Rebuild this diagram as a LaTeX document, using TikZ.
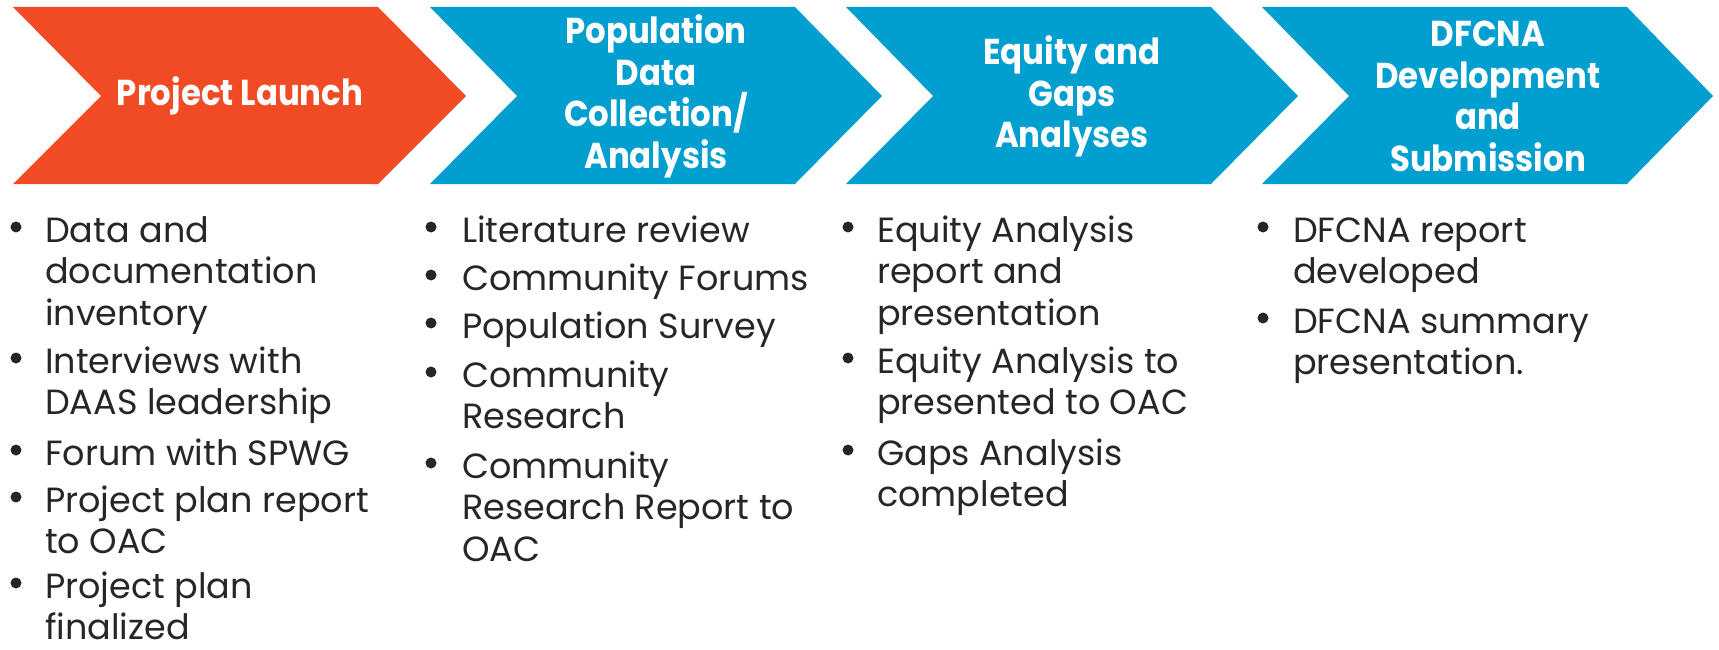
\documentclass[tikz,border=0pt]{standalone}
\usepackage{fontspec}
\setmainfont{Poppins}
\newfontfamily\headff{Poppins}[FakeStretch=0.9]
\definecolor{orng}{HTML}{F04B24}
\definecolor{blu}{HTML}{009FCF}
\definecolor{txt}{HTML}{262626}
\newcommand{\bodyfont}{\fontsize{35}{41.5}\selectfont}
\newcommand{\headfont}{\headff\fontsize{36}{41.5}\selectfont\bfseries}
\newcommand{\lines}[1]{\vtop{\def\\{\egroup\hbox\bgroup}\hbox\bgroup#1\egroup}}
\tikzset{
  head/.style={text=white, font=\headfont, align=center, inner sep=0pt},
  itemtxt/.style={text=txt, font=\bodyfont, anchor=base west, inner sep=0pt},
  dot/.style={circle, fill=txt, inner sep=0pt, minimum size=11pt},
}
\begin{document}
\begin{tikzpicture}[x=1pt,y=-1pt]
\useasboundingbox (0,0) rectangle (1719,650);
% chevrons
\fill[orng] (13,7) -- (378,7) -- (466,96) -- (378,184) -- (13,184) -- (101,96) -- cycle;
\fill[blu] (430,7) -- (795,7) -- (882,96) -- (795,184) -- (430,184) -- (517,96) -- cycle;
\fill[blu] (846,7) -- (1211,7) -- (1298,96) -- (1211,184) -- (846,184) -- (933,96) -- cycle;
\fill[blu] (1262,7) -- (1627,7) -- (1713,96) -- (1627,184) -- (1262,184) -- (1349,96) -- cycle;
% headers
\node[head] (h1) at (240,96) {Project Launch};
\node[head] (h2) at (656,96.5) {Population\\Data\\Collection/\\Analysis};
\node[head] (h3) at (1072,96.5) {Equity and\\Gaps\\Analyses};
\node[head] (h4) at (1488,96.5) {DFCNA\\Development\\and\\Submission};
% column 1
\node[dot] (c1b1) at (16,227) {};
\node[itemtxt] (c1t1) at (45,242) {\lines{Data and\\documentation\\inventory}};
\node[dot] (c1b2) at (16,358) {};
\node[itemtxt] (c1t2) at (45,373) {\lines{Interviews with\\DAAS leadership}};
\node[dot] (c1b3) at (16,450) {};
\node[itemtxt] (c1t3) at (45,465) {\lines{Forum with SPWG}};
\node[dot] (c1b4) at (16,497) {};
\node[itemtxt] (c1t4) at (45,512) {\lines{Project plan report\\to OAC}};
\node[dot] (c1b5) at (16,583) {};
\node[itemtxt] (c1t5) at (45,598) {\lines{Project plan\\finalized}};
% column 2
\node[dot] (c2b1) at (431,227) {};
\node[itemtxt] (c2t1) at (462,242) {\lines{Literature review}};
\node[dot] (c2b2) at (431,275) {};
\node[itemtxt] (c2t2) at (462,290) {\lines{Community Forums}};
\node[dot] (c2b3) at (431,323) {};
\node[itemtxt] (c2t3) at (462,338) {\lines{Population Survey}};
\node[dot] (c2b4) at (431,372) {};
\node[itemtxt] (c2t4) at (462,387) {\lines{Community\\Research}};
\node[dot] (c2b5) at (431,463) {};
\node[itemtxt] (c2t5) at (462,478) {\lines{Community\\Research Report to\\OAC}};
% column 3
\node[dot] (c3b1) at (848,227) {};
\node[itemtxt] (c3t1) at (877,242) {\lines{Equity Analysis\\report and\\presentation}};
\node[dot] (c3b2) at (848,358) {};
\node[itemtxt] (c3t2) at (877,373) {\lines{Equity Analysis to\\presented to OAC}};
\node[dot] (c3b3) at (848,450) {};
\node[itemtxt] (c3t3) at (877,465) {\lines{Gaps Analysis\\completed}};
% column 4
\node[dot] (c4b1) at (1263,227) {};
\node[itemtxt] (c4t1) at (1293,242) {\lines{DFCNA report\\developed}};
\node[dot] (c4b2) at (1263,318) {};
\node[itemtxt] (c4t2) at (1293,333) {\lines{DFCNA summary\\presentation.}};
\end{tikzpicture}
\end{document}
